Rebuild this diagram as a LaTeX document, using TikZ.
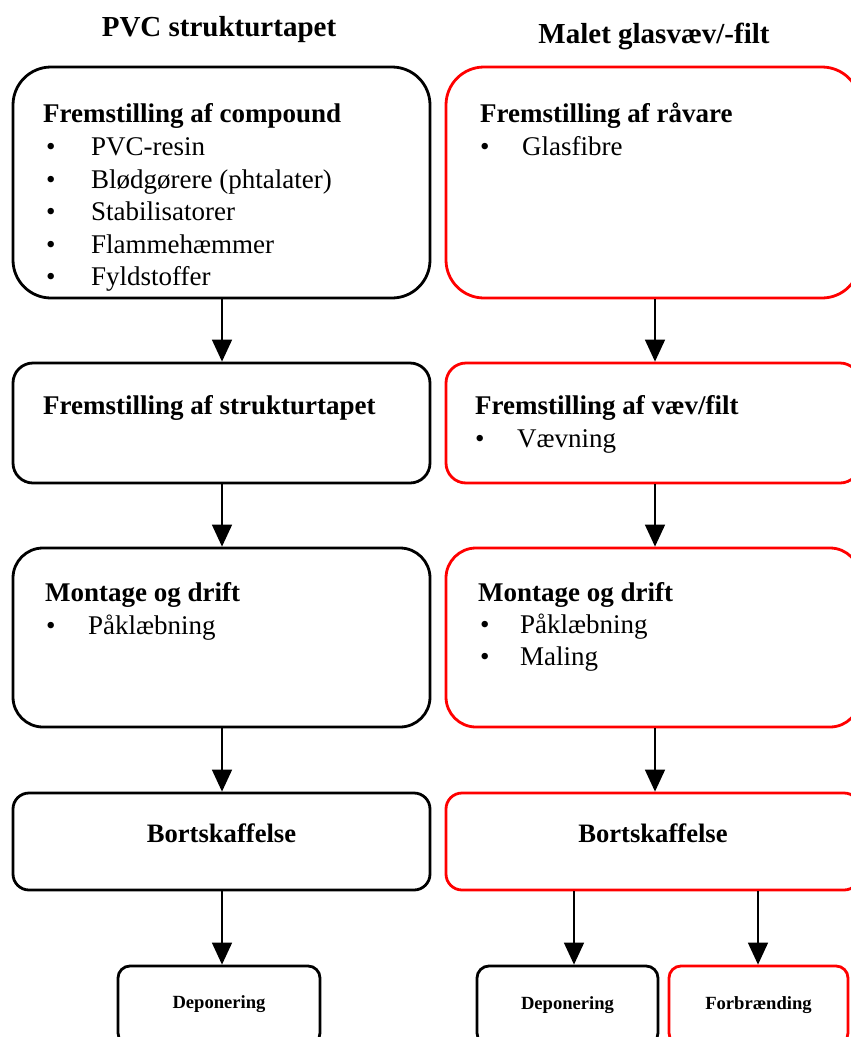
\documentclass[tikz,border=0pt]{standalone}
\usepackage{fontspec}
\setmainfont{Liberation Serif}
\usetikzlibrary{arrows.meta}
\definecolor{boxred}{RGB}{255,0,0}
\tikzset{
  box/.style={draw, line width=2.8pt, inner sep=0pt, fill=white},
  blackbox/.style={box, draw=black},
  redbox/.style={box, draw=boxred},
  arr/.style={line width=1.6pt, -{Triangle[width=20pt,length=22pt]}},
  title/.style={anchor=base, inner sep=0pt, font=\bfseries\fontsize{29}{34}\selectfont},
  heading/.style={anchor=base west, inner sep=0pt, font=\bfseries\fontsize{27}{31}\selectfont},
  centerhead/.style={anchor=base, inner sep=0pt, font=\bfseries\fontsize{26.6}{31}\selectfont},
  item/.style={anchor=base west, inner sep=0pt, font=\fontsize{27}{31}\selectfont},
  small/.style={anchor=base, inner sep=0pt, font=\bfseries\fontsize{18.6}{22}\selectfont},
}
\begin{document}
\begin{tikzpicture}[x=1pt,y=-1pt]
\clip (0,0) rectangle (851,1037);
\fill[white] (0,0) rectangle (851,1037);

% column titles
\node[title] (t1) at (219,36) {PVC strukturtapet};
\node[title] (t2) at (654,43) {Malet glasvæv/-filt};

% left column boxes
\node[blackbox, minimum width=417pt, minimum height=231pt, rounded corners=38pt] (lb1) at (221.5,182.5) {};
\node[blackbox, minimum width=417pt, minimum height=120pt, rounded corners=20pt] (lb2) at (221.5,423) {};
\node[blackbox, minimum width=417pt, minimum height=179pt, rounded corners=30pt] (lb3) at (221.5,637.5) {};
\node[blackbox, minimum width=417pt, minimum height=97pt, rounded corners=16pt] (lb4) at (221.5,841.5) {};
\node[blackbox, minimum width=202pt, minimum height=79pt, rounded corners=12pt] (ld) at (219,1005.5) {};

% right column boxes
\node[redbox, minimum width=414pt, minimum height=231pt, rounded corners=38pt] (rb1) at (653,182.5) {};
\node[redbox, minimum width=414pt, minimum height=120pt, rounded corners=20pt] (rb2) at (653,423) {};
\node[redbox, minimum width=414pt, minimum height=179pt, rounded corners=30pt] (rb3) at (653,637.5) {};
\node[redbox, minimum width=414pt, minimum height=97pt, rounded corners=16pt] (rb4) at (653,841.5) {};
\node[blackbox, minimum width=181pt, minimum height=79pt, rounded corners=12pt] (rd) at (567.5,1005.5) {};
\node[redbox, minimum width=179pt, minimum height=79pt, rounded corners=12pt] (rf) at (758.5,1005.5) {};

% left column texts
\node[heading] (lh1) at (43,122) {Fremstilling af compound};
\node[item] (lb1a) at (46,155) {•};
\node[item] (lt1a) at (91,155) {PVC-resin};
\node[item] (lb1b) at (46,188) {•};
\node[item] (lt1b) at (91,188) {Blødgørere (phtalater)};
\node[item] (lb1c) at (46,220) {•};
\node[item] (lt1c) at (91,220) {Stabilisatorer};
\node[item] (lb1d) at (46,253) {•};
\node[item] (lt1d) at (91,253) {Flammehæmmer};
\node[item] (lb1e) at (46,285) {•};
\node[item] (lt1e) at (91,285) {Fyldstoffer};

\node[heading] (lh2) at (43,414) {Fremstilling af strukturtapet};

\node[heading] (lh3) at (45,601) {Montage og drift};
\node[item] (lb3a) at (46,634) {•};
\node[item] (lt3a) at (88,634) {Påklæbning};

\node[centerhead] (lh4) at (221.5,842) {Bortskaffelse};
\node[small] (ldt) at (219,1008) {Deponering};

% right column texts
\node[heading] (rh1) at (480,122) {Fremstilling af råvare};
\node[item] (rb1a) at (480,155) {•};
\node[item] (rt1a) at (522,155) {Glasfibre};

\node[heading] (rh2) at (475,414) {Fremstilling af væv/filt};
\node[item] (rb2a) at (475,447) {•};
\node[item] (rt2a) at (517,447) {Vævning};

\node[heading] (rh3) at (478,601) {Montage og drift};
\node[item] (rb3a) at (480,633) {•};
\node[item] (rt3a) at (520,633) {Påklæbning};
\node[item] (rb3b) at (480,665) {•};
\node[item] (rt3b) at (520,665) {Maling};

\node[centerhead] (rh4) at (653,842) {Bortskaffelse};
\node[small] (rdt) at (567.5,1009) {Deponering};
\node[small] (rft) at (758.5,1009) {Forbrænding};

% connectors
\coordinate (lx) at (222,0);
\coordinate (rx) at (655,0);
\coordinate (dx) at (574,0);
\coordinate (fx) at (758,0);
\draw[arr] (lb1.south -| lx) -- (lb2.north -| lx);
\draw[arr] (lb2.south -| lx) -- (lb3.north -| lx);
\draw[arr] (lb3.south -| lx) -- (lb4.north -| lx);
\draw[arr] (lb4.south -| lx) -- (ld.north -| lx);
\draw[arr] (rb1.south -| rx) -- (rb2.north -| rx);
\draw[arr] (rb2.south -| rx) -- (rb3.north -| rx);
\draw[arr] (rb3.south -| rx) -- (rb4.north -| rx);
\draw[arr] (rb4.south -| dx) -- (rd.north -| dx);
\draw[arr] (rb4.south -| fx) -- (rf.north -| fx);
\end{tikzpicture}
\end{document}
